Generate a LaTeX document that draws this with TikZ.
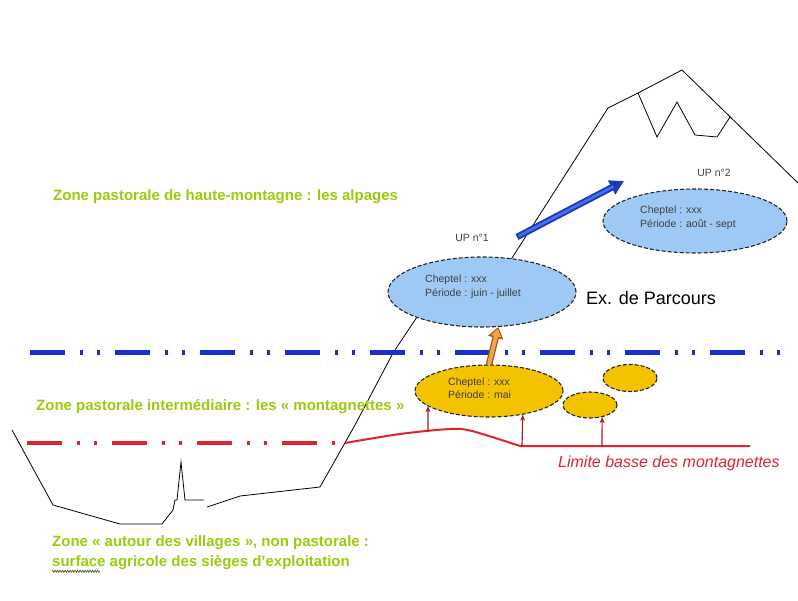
\documentclass[tikz,border=0pt]{standalone}
\usepackage{fontspec}
\setmainfont{Liberation Sans}
\usetikzlibrary{shapes.geometric,arrows.meta,decorations.pathmorphing}

\definecolor{zonegreen}{HTML}{9ACB0C}
\definecolor{limitblue}{HTML}{1A2ECF}
\definecolor{limitred}{HTML}{DE2430}
\definecolor{upblue}{HTML}{9EC9F4}
\definecolor{upgold}{HTML}{F4C300}
\definecolor{moveorange}{HTML}{F2A548}
\definecolor{moveedge}{HTML}{9A5A18}
\definecolor{movebluedark}{HTML}{1F3AB8}
\definecolor{movebluelight}{HTML}{4A72E8}
\definecolor{squiggle}{HTML}{3C4A10}

\begin{document}
\begin{tikzpicture}[x=1pt,y=-1pt,
  relief/.style={draw=black, line width=0.8pt, line join=miter},
  dashdotline/.style={line width=#1, dash pattern=on 35pt off 15pt on 3pt off 14pt on 3pt off 15pt},
  upnode/.style={ellipse, draw=black!85, line width=1.1pt, dash pattern=on 4pt off 2pt, inner sep=0pt},
  upcloud/.style={upnode, fill=upblue},
  upgoldnode/.style={upnode, fill=upgold},
  uptext/.style={anchor=west, align=left, font=\fontsize{10.5}{13.5}\selectfont, text=black!75, inner sep=0pt},
  uplabel/.style={font=\fontsize{10.5}{12}\selectfont, text=black!75, inner sep=0pt},
  zonetext/.style={anchor=west, inner sep=0pt, text=zonegreen, font=\fontsize{15}{18}\selectfont\bfseries},
  redarrow/.style={draw=limitred!75!black, line width=1.2pt, -{Stealth[length=6pt,width=5pt]}},
]
% page and background
\fill[white] (0,0) rectangle (798,600);
\useasboundingbox (0,0) rectangle (798,600);

% valley and mountain profile
\draw[relief] (12,430) -- (53,505) -- (120,524) -- (162,524) -- (173,510) -- (175,500)
  -- (177,500) -- (181,462) -- (185,500) -- (204,500);
\draw[relief] (207,507) -- (240,496) -- (320,487) -- (355,425) -- (393,353) -- (425,305)
  -- (512,258) -- (608,108) -- (638,93) -- (682,70) -- (798,183);
% glacier edge
\draw[relief] (638,93) -- (657,137) -- (677,102) -- (695,135) -- (717,137) -- (730,117);

% upper limit of the intermediate zone
\draw[dashdotline=5pt, limitblue] (30,352) -- (780,352);

% lower limit of the montagnettes
\draw[dashdotline=3.5pt, limitred] (27,443) -- (345,443);
\draw[limitred, line width=2pt] plot[smooth, tension=0.5] coordinates {(345,443) (400,434) (450,429) (472,431) (520,446)} -- (750,446);

% grazing units
\node[upcloud, minimum width=188pt, minimum height=70pt] (up1) at (482,292) {};
\node[upcloud, minimum width=184pt, minimum height=64pt] (up2) at (695,221) {};
\node[upgoldnode, minimum width=148pt, minimum height=52pt] (mt1) at (489,391) {};
\node[upgoldnode, minimum width=54pt, minimum height=27pt] (mt2) at (630,378) {};
\node[upgoldnode, minimum width=54pt, minimum height=26pt] (mt3) at (590,405) {};

\node[uptext] (up1txt) at (425,287) {Cheptel : xxx\\Période : juin - juillet};
\node[uptext] (up2txt) at (640,218) {Cheptel : xxx\\Période : août - sept};
\node[uptext] (mt1txt) at (448,388) {Cheptel : xxx\\Période : mai};
\node[uplabel] (up1lab) at (472,238) {UP n°1};
\node[uplabel] (up2lab) at (714,173) {UP n°2};

% access from the limit to the montagnettes
\coordinate (rb1) at (428,431);
\coordinate (rb2) at (522,446);
\coordinate (rb3) at (602,446);
\draw[redarrow] (rb1) -- (mt1.194);
\draw[redarrow] (rb2) -- (mt1.-35);
\draw[redarrow] (rb3) -- (mt3.-45);

% route of the herd
\draw[moveedge, line width=6.5pt, -{Triangle[length=11pt,width=15pt]}] (mt1.north) -- (up1.-65);
\draw[moveorange, line width=4pt, shorten >=2pt, -{Triangle[length=7.5pt,width=10pt]}] (mt1.north) -- (up1.-65);

\coordinate (bt) at (517,237);
\coordinate (bh) at (624,181);
\draw[movebluedark, line width=6.5pt, -{Triangle[length=14pt,width=15pt]}] (bt) -- (bh);
\draw[movebluelight, line width=2.5pt, shorten >=12pt, shorten <=2pt] (bt) -- (bh);

\node[anchor=west, inner sep=0pt, font=\fontsize{18}{20}\selectfont] (route) at (586,298) {Ex. de Parcours};

% zone names
\node[zonetext] (alp) at (53,197) {Zone pastorale de haute-montagne : les alpages};
\node[zonetext] (inter) at (36,407) {Zone pastorale intermédiaire : les « montagnettes »};
\node[zonetext] (vil1) at (52,543) {Zone « autour des villages », non pastorale :};
\node[zonetext] (vil2) at (52,563) {surface agricole des sièges d'exploitation};
\draw[squiggle, line width=0.6pt, decorate, decoration={zigzag, segment length=2.5pt, amplitude=1pt}]
  ([yshift=-1pt]vil2.south west) -- ++(48,0);

\node[anchor=west, inner sep=0pt, text=limitred, font=\fontsize{16}{18}\selectfont\itshape] (limit) at (558,463) {Limite basse des montagnettes};
\end{tikzpicture}
\end{document}
